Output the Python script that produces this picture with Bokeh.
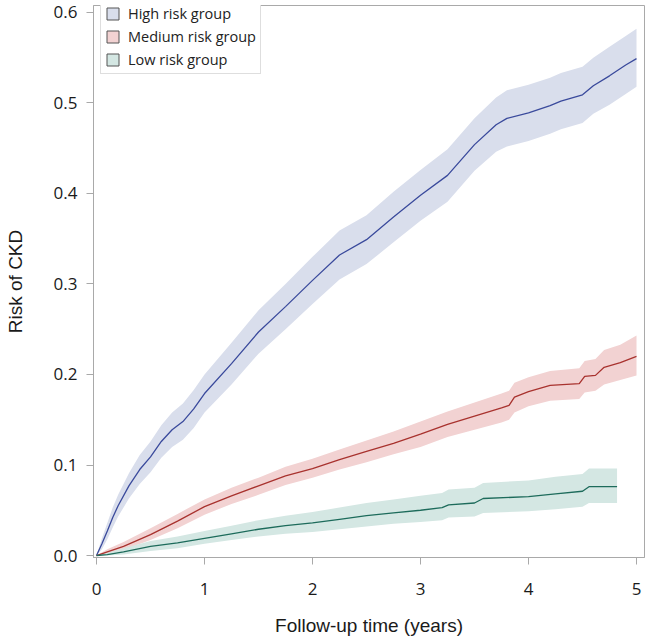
from bokeh.plotting import figure
from bokeh.models import FixedTicker, Legend, LegendItem, Range1d
from bokeh.embed import file_html
from bokeh.resources import INLINE

# ---- data ----
high_t = [0, 0.05, 0.1, 0.15, 0.2, 0.3, 0.4, 0.5, 0.6, 0.7, 0.8, 0.9, 1.0, 1.25, 1.5, 1.75,
          2.0, 2.25, 2.5, 2.75, 3.0, 3.25, 3.5, 3.7, 3.8, 4.0, 4.2, 4.3, 4.5, 4.6, 4.75, 4.9, 5.0]
high_risk = [0, 0.013, 0.027, 0.042, 0.055, 0.077, 0.095, 0.109, 0.126, 0.139, 0.148, 0.162, 0.179,
             0.212, 0.247, 0.275, 0.304, 0.332, 0.349, 0.374, 0.398, 0.420, 0.454, 0.476, 0.483,
             0.489, 0.497, 0.502, 0.509, 0.519, 0.530, 0.542, 0.549]
high_upper = [0, 0.019, 0.036, 0.053, 0.067, 0.091, 0.111, 0.126, 0.144, 0.158, 0.168, 0.183, 0.200,
              0.235, 0.271, 0.300, 0.330, 0.359, 0.376, 0.402, 0.426, 0.449, 0.483, 0.506, 0.514,
              0.520, 0.528, 0.533, 0.540, 0.550, 0.562, 0.574, 0.582]
high_lower = [0, 0.007, 0.018, 0.031, 0.043, 0.063, 0.079, 0.092, 0.108, 0.120, 0.128, 0.141, 0.158,
              0.189, 0.223, 0.250, 0.278, 0.305, 0.322, 0.346, 0.370, 0.391, 0.425, 0.446, 0.452,
              0.458, 0.466, 0.471, 0.478, 0.488, 0.498, 0.510, 0.518]

med_t = [0, 0.1, 0.25, 0.5, 0.75, 1.0, 1.25, 1.5, 1.75, 2.0, 2.25, 2.5, 2.75, 3.0, 3.25, 3.5,
         3.75, 3.82, 3.87, 4.0, 4.2, 4.47, 4.52, 4.62, 4.7, 4.85, 5.0]
med_risk = [0, 0.004, 0.010, 0.023, 0.038, 0.054, 0.066, 0.077, 0.088, 0.096, 0.106, 0.115, 0.124,
            0.134, 0.145, 0.154, 0.163, 0.166, 0.175, 0.181, 0.188, 0.190, 0.198, 0.199, 0.208,
            0.213, 0.220]
med_upper = [0, 0.007, 0.015, 0.030, 0.046, 0.062, 0.075, 0.086, 0.098, 0.107, 0.117, 0.127, 0.137,
             0.148, 0.159, 0.169, 0.179, 0.182, 0.191, 0.197, 0.204, 0.207, 0.215, 0.217, 0.227,
             0.233, 0.243]
med_lower = [0, 0.001, 0.006, 0.017, 0.030, 0.045, 0.057, 0.067, 0.078, 0.086, 0.095, 0.103, 0.112,
             0.120, 0.131, 0.139, 0.147, 0.150, 0.158, 0.165, 0.171, 0.173, 0.180, 0.182, 0.189,
             0.194, 0.199]

low_t = [0, 0.1, 0.25, 0.5, 0.75, 1.0, 1.25, 1.5, 1.75, 2.0, 2.25, 2.5, 2.75, 3.0, 3.2, 3.26,
         3.5, 3.58, 4.0, 4.25, 4.5, 4.56, 4.82]
low_risk = [0, 0.001, 0.004, 0.010, 0.014, 0.019, 0.024, 0.029, 0.033, 0.036, 0.040, 0.044, 0.047,
            0.050, 0.053, 0.056, 0.058, 0.063, 0.065, 0.068, 0.071, 0.076, 0.076]
low_upper = [0, 0.003, 0.008, 0.016, 0.021, 0.027, 0.033, 0.039, 0.044, 0.048, 0.053, 0.058, 0.062,
             0.066, 0.069, 0.073, 0.075, 0.080, 0.083, 0.087, 0.090, 0.096, 0.096]
low_lower = [0, 0.000, 0.001, 0.005, 0.008, 0.013, 0.017, 0.021, 0.024, 0.026, 0.029, 0.032, 0.035,
             0.037, 0.039, 0.042, 0.043, 0.047, 0.049, 0.051, 0.054, 0.058, 0.058]

group_names = ["High risk group", "Medium risk group", "Low risk group"]
x_ticks = [0, 1, 2, 3, 4, 5]
y_ticks = [0.0, 0.1, 0.2, 0.3, 0.4, 0.5, 0.6]
y_tick_labels = ["0.0", "0.1", "0.2", "0.3", "0.4", "0.5", "0.6"]

# ---- styling ----
line_colors = ["#3a4a9c", "#a8322e", "#1d6b5b"]
band_colors = ["#d9deec", "#f2d2d2", "#d4e7e3"]
frame_gray = "#a9a9a9"

W, H = 645, 641
BL, BR, BT, BB = 93, 1, 5, 84
frame_h = H - BT - BB

p = figure(width=W, height=H, output_backend="svg", toolbar_location=None,
           x_range=Range1d(-0.028, 5.074), y_range=Range1d(-0.0022, 0.6077),
           min_border_left=BL, min_border_right=BR, min_border_top=BT, min_border_bottom=BB)
p.background_fill_color = "white"
p.border_fill_color = "white"
p.outline_line_color = frame_gray
p.outline_line_width = 1
p.grid.visible = False

series = [(high_t, high_risk, high_upper, high_lower),
          (med_t, med_risk, med_upper, med_lower),
          (low_t, low_risk, low_upper, low_lower)]
for (t, r, up, lo), lc, bc in zip(series, line_colors, band_colors):
    p.varea(x=t, y1=lo, y2=up, fill_color=bc, fill_alpha=1.0)
for (t, r, up, lo), lc, bc in zip(series, line_colors, band_colors):
    p.line(x=t, y=r, line_color=lc, line_width=1.3)

# legend swatches: quads with a single NaN row draw nothing in the plot,
# but give the legend a bordered square
nan = float("nan")
items = []
for name, bc in zip(group_names, band_colors):
    rq = p.quad(left=[nan], right=[nan], top=[nan], bottom=[nan], fill_color=bc,
                line_color="#555555", line_width=1)
    items.append(LegendItem(label=name, renderers=[rq]))
legend_h = 4 + 3 * 17 + 2 * 4 + 4
legend = Legend(items=items, location=(7, frame_h - 2 - legend_h), margin=0, padding=4,
                spacing=4, glyph_width=15, glyph_height=15, label_height=17, label_standoff=8,
                label_text_font="Open Sans", label_text_font_size="14.5px",
                label_text_color="#222222", border_line_color="#bdbdbd",
                background_fill_color="white", background_fill_alpha=1.0)
p.add_layout(legend, "center")

# axes
p.xaxis.ticker = FixedTicker(ticks=x_ticks)
p.yaxis.ticker = FixedTicker(ticks=y_ticks)
p.yaxis.major_label_overrides = {v: s for v, s in zip(y_ticks, y_tick_labels)}
for ax in (p.xaxis, p.yaxis):
    ax.axis_line_color = frame_gray
    ax.major_tick_line_color = frame_gray
    ax.major_tick_out = 7
    ax.major_tick_in = 0
    ax.minor_tick_line_color = None
    ax.major_label_text_font = "Open Sans"
    ax.major_label_text_font_size = "17px"
    ax.major_label_text_color = "#1a1a1a"
    ax.axis_label_text_font = "Liberation Sans"
    ax.axis_label_text_font_size = "19px"
    ax.axis_label_text_font_style = "normal"
    ax.axis_label_text_color = "#1a1a1a"

p.xaxis.axis_label = "Follow-up time (years)"
p.yaxis.axis_label = "Risk of CKD"
p.xaxis.major_label_standoff = 18
p.yaxis.major_label_standoff = 9
p.xaxis.axis_label_standoff = 17
p.yaxis.axis_label_standoff = 25

open("out.html", "w").write(file_html(p, INLINE))
